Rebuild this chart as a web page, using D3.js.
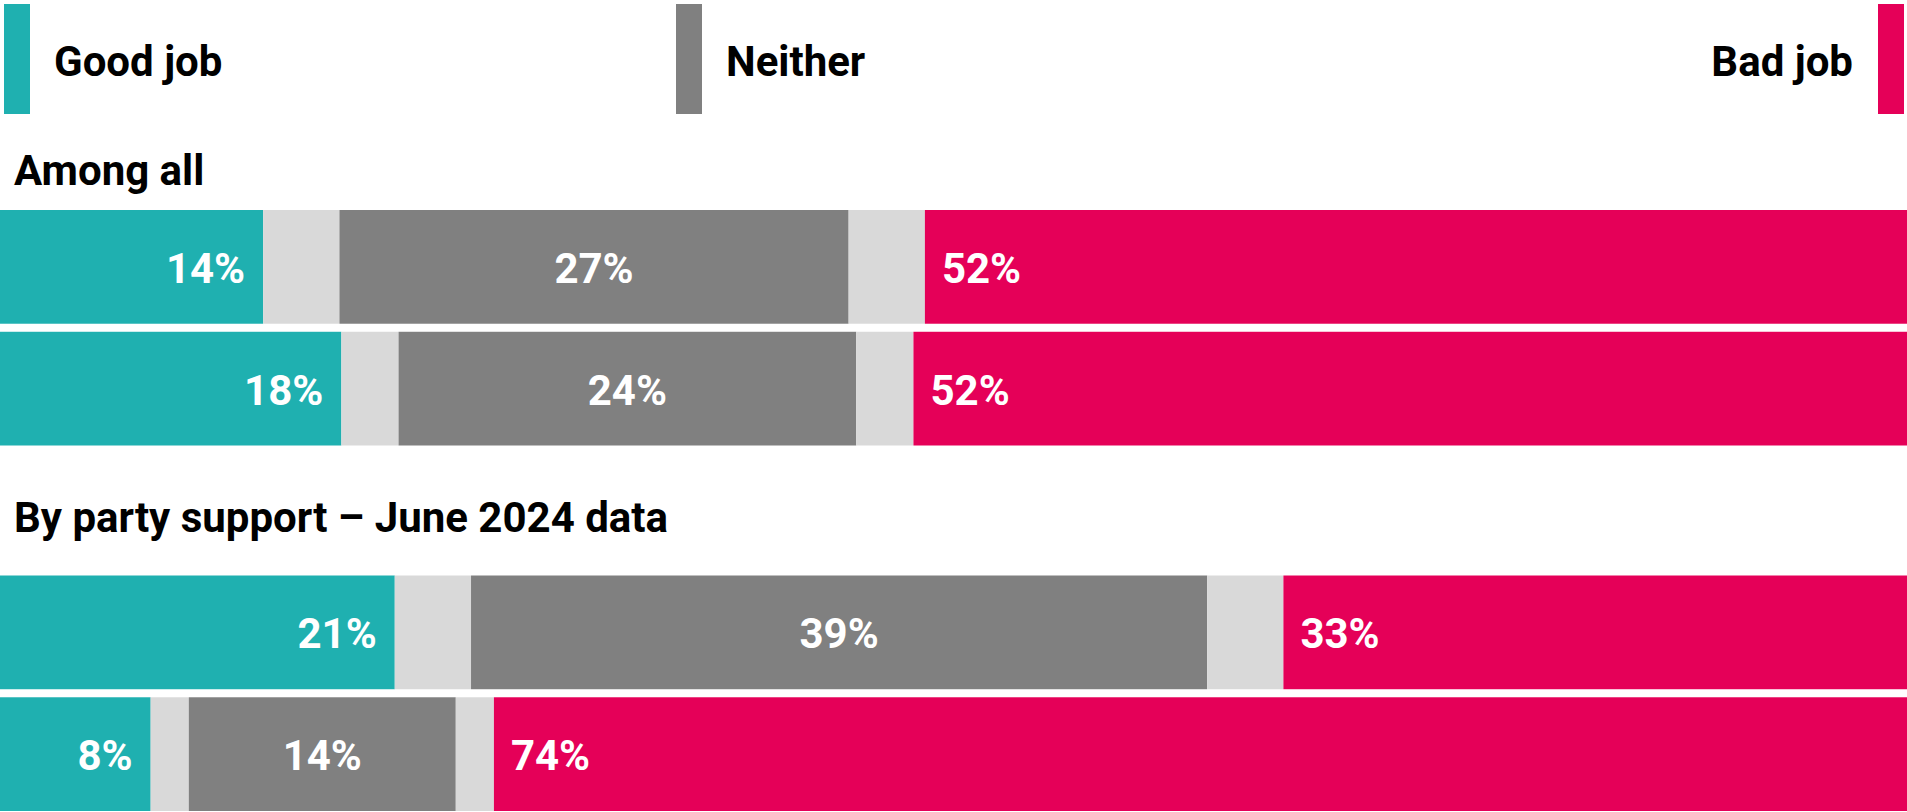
<!DOCTYPE html>
<html>
<head>
<meta charset="utf-8">
<script src="https://cdn.jsdelivr.net/npm/d3@7"></script>
<style>
  html, body { margin: 0; padding: 0; background: #fff; }
</style>
</head>
<body>
<div id="chart"></div>
<script>

//Data
var legendLabels = ["Good job", "Neither", "Bad job"];
var groupTitles = ["Among all", "By party support – June 2024 data"];
var rowGroup = [0, 0, 1, 1];
var goodJob = [13.8, 17.9, 20.7, 7.9];
var dontKnow = [8.0, 6.0, 8.0, 4.0];
var neither = [26.7, 24.0, 38.6, 14.0];
var badJob = [51.5, 52.1, 32.7, 74.1];

//Colours
var teal = "#1fb0b0",
    grey = "#808080",
    light = "#d9d9d9",
    pink = "#e50058";

var width = 1907,
    height = 812;

var svg = d3.select("#chart")
  .append("svg")
  .attr("width", width)
  .attr("height", height)
  .style("font-family", "Roboto, 'Open Sans', sans-serif")
  .style("display", "block");

//Settup x
var xScale = d3.scaleLinear()
  .domain([0, 100])
  .range([0, width]);

//Settup y, one band scale per group
var groupRange = [[210, 445.5], [575.5, 811]];
var rowIndex = rowGroup.map((g, i) => i);
var yScales = groupRange.map((r, g) => d3.scaleBand()
  .domain(rowIndex.filter(i => rowGroup[i] === g))
  .range(r)
  .paddingInner(0.066));

function yTop(i) { return yScales[rowGroup[i]](i); }
function bandH(i) { return yScales[rowGroup[i]].bandwidth(); }

//Build the segments for every row
var segments = [];
rowIndex.forEach(function(i) {
  var parts = [
    {key: "good", v: goodJob[i], fill: teal},
    {key: "dk", v: dontKnow[i] / 2, fill: light},
    {key: "neither", v: neither[i], fill: grey},
    {key: "dk", v: dontKnow[i] / 2, fill: light},
    {key: "bad", v: badJob[i], fill: pink}
  ];
  var x0 = 0;
  parts.forEach(function(p) {
    p.row = i;
    p.x0 = x0;
    p.x1 = x0 + p.v;
    x0 = p.x1;
    segments.push(p);
  });
});

//Bars
svg.append("g")
  .selectAll("rect")
  .data(segments)
  .enter()
  .append("rect")
  .attr("x", d => xScale(d.x0))
  .attr("width", d => xScale(d.x1) - xScale(d.x0))
  .attr("y", d => yTop(d.row))
  .attr("height", d => bandH(d.row))
  .attr("fill", d => d.fill);

//Value labels
var labelPad = 18;
svg.append("g")
  .selectAll("text")
  .data(segments.filter(d => d.key !== "dk"))
  .enter()
  .append("text")
  .attr("x", function(d) {
    if (d.key === "good") return xScale(d.x1) - labelPad;
    if (d.key === "bad") return xScale(d.x0) + labelPad - 1;
    return (xScale(d.x0) + xScale(d.x1)) / 2;
  })
  .attr("y", d => yTop(d.row) + bandH(d.row) / 2 + 16)
  .attr("text-anchor", d => d.key === "good" ? "end" : (d.key === "bad" ? "start" : "middle"))
  .style("font-size", "42px")
  .style("font-weight", 700)
  .style("fill", "#fff")
  .text(d => Math.round(d.v) + "%");

//Legend
var legendColors = [teal, grey, pink];
var swatchX = [4, 676, 1878];
var legend = svg.append("g");

legend.selectAll("rect")
  .data(legendLabels)
  .enter()
  .append("rect")
  .attr("x", (d, i) => swatchX[i])
  .attr("y", 4)
  .attr("width", 26)
  .attr("height", 110)
  .attr("fill", (d, i) => legendColors[i]);

legend.selectAll("text")
  .data(legendLabels)
  .enter()
  .append("text")
  .attr("x", (d, i) => i === 2 ? swatchX[i] - 25 : swatchX[i] + 50)
  .attr("y", 76)
  .attr("text-anchor", (d, i) => i === 2 ? "end" : "start")
  .style("font-size", "42px")
  .style("font-weight", 700)
  .style("fill", "#000")
  .text(d => d);

//Group titles
var titleY = [185, 532];
svg.append("g")
  .selectAll("text")
  .data(groupTitles)
  .enter()
  .append("text")
  .attr("x", 14)
  .attr("y", (d, i) => titleY[i])
  .style("font-size", "42px")
  .style("font-weight", 700)
  .style("fill", "#000")
  .text(d => d);

</script>
</body>
</html>
